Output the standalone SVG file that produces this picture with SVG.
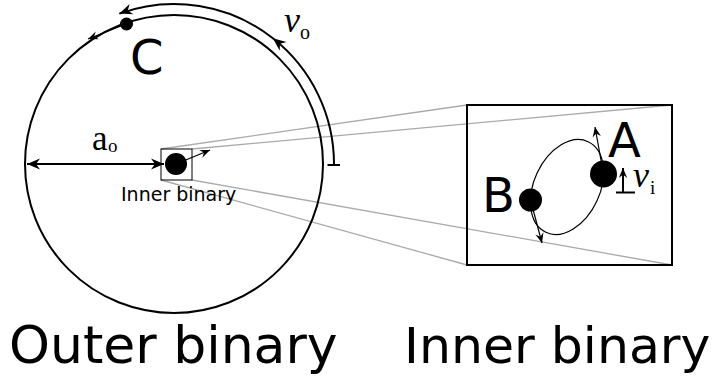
<svg xmlns="http://www.w3.org/2000/svg" width="722" height="377" viewBox="0 0 722 377">
<defs>
<style>
.sans{font-family:"DejaVu Sans",sans-serif;fill:#000}
.serif{font-family:"Liberation Serif","Times New Roman",serif;fill:#000}
.it{font-style:italic}
.thick{fill:none;stroke:#000;stroke-width:2}
.thin{fill:none;stroke:#000;stroke-width:1.2}
.gray{fill:none;stroke:#aaa;stroke-width:1.3}
.dot{fill:#000}
</style>
<marker id="ah" viewBox="-14 -7 16 14" refX="0" refY="0" markerWidth="16" markerHeight="14" markerUnits="userSpaceOnUse" orient="auto-start-reverse">
<path d="M0,0 L-13,-5.5 L-9,0 L-13,5.5 Z" fill="#000"/>
</marker>
<marker id="ahs" viewBox="-11 -5 13 10" refX="0" refY="0" markerWidth="13" markerHeight="10" markerUnits="userSpaceOnUse" orient="auto-start-reverse">
<path d="M0,0 L-10,-4.2 L-6.5,0 L-10,4.2 Z" fill="#000"/>
</marker>
</defs>
<rect width="722" height="377" fill="#fff"/>

<g id="zoom-lines">
<line class="gray" x1="161" y1="149" x2="467" y2="105"/>
<line class="gray" x1="192" y1="149" x2="672" y2="105"/>
<line class="gray" x1="161" y1="180" x2="467" y2="265"/>
<line class="gray" x1="192" y1="180" x2="672" y2="265"/>
</g>

<g id="outer-orbit">
<circle class="thick" cx="174" cy="164" r="149"/>
</g>

<g id="connectors">
<path class="thick" d="M334,165 A160,160 0 0 0 272.9,38.3 A160,160 0 0 0 119.3,13.6" marker-mid="url(#ah)" marker-end="url(#ah)"/>
<line class="thick" x1="327.5" y1="165" x2="340" y2="165"/>
<line class="thick" x1="27" y1="164" x2="164" y2="164" marker-start="url(#ah)" marker-end="url(#ah)"/>
<line class="thin" x1="176" y1="164" x2="210" y2="150" marker-end="url(#ahs)"/>
<line class="thin" x1="126" y1="24" x2="88" y2="39" marker-end="url(#ahs)"/>
<line class="thin" x1="603.5" y1="174" x2="595" y2="127" marker-end="url(#ahs)"/>
<line class="thin" x1="530.5" y1="200" x2="542" y2="243" marker-end="url(#ahs)"/>
<line class="thick" x1="623" y1="192" x2="623" y2="168" marker-end="url(#ahs)"/>
<line class="thick" x1="616" y1="192.5" x2="635" y2="192.5"/>
</g>

<g id="node-C">
<circle class="dot" cx="126.5" cy="24" r="6.5"/>
<text class="sans" x="130" y="74" font-size="48">C</text>
</g>

<g id="label-vo">
<text class="serif it" x="284" y="32" font-size="36">ν</text>
<text class="serif" x="300" y="39" font-size="20">o</text>
</g>

<g id="label-ao">
<text class="serif" x="92" y="150" font-size="35">a</text>
<text class="serif" x="108" y="152" font-size="19">o</text>
</g>

<g id="inner-binary-small">
<rect x="161" y="149" width="31" height="31" fill="none" stroke="#000" stroke-width="1"/>
<circle class="dot" cx="176" cy="164" r="11"/>
<text class="sans" x="121" y="201" font-size="19">Inner binary</text>
</g>

<g id="inner-binary-zoom">
<rect x="467" y="105" width="205" height="160" fill="none" stroke="#000" stroke-width="2"/>
<ellipse cx="567" cy="187" rx="50" ry="33" transform="rotate(-65 567 187)" fill="none" stroke="#000" stroke-width="1.2"/>
</g>

<g id="node-A">
<circle class="dot" cx="603.5" cy="174" r="13.5"/>
<text class="sans" x="608" y="157" font-size="48">A</text>
</g>

<g id="node-B">
<circle class="dot" cx="530.5" cy="200" r="11.5"/>
<text class="sans" x="482" y="212" font-size="48">B</text>
</g>

<g id="label-vi">
<text class="serif it" x="633" y="187" font-size="36">ν</text>
<text class="serif" x="650" y="194" font-size="19">i</text>
</g>

<g id="titles">
<text class="sans" x="9" y="363" font-size="52">Outer binary</text>
<text class="sans" x="404" y="363" font-size="50.5">Inner binary</text>
</g>
</svg>
